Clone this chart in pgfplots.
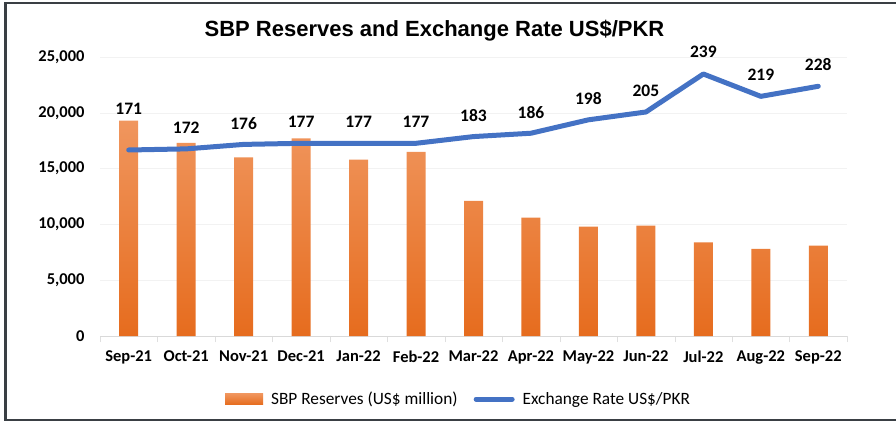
\documentclass[border=0pt]{standalone}
\usepackage{pgfplots}
\pgfplotsset{compat=1.18}
\usepackage{pgfplotstable}
\usepackage{fontspec}
\setmainfont{Carlito}
\newfontfamily\titlefont{Liberation Sans}
\definecolor{barTop}{HTML}{F0965E}
\definecolor{barBot}{HTML}{E66C1E}
\definecolor{lineBlue}{HTML}{4472C4}
\definecolor{frame}{HTML}{3A3F44}

\pgfplotstableread{
x y
0 19300
1 17300
2 16000
3 17700
4 15800
5 16500
6 12100
7 10600
8 9800
9 9900
10 8400
11 7800
12 8100
}\reserves

\pgfplotstableread{
x y off
0 171 41
1 172 21
2 176 21
3 177 21
4 177 21
5 177 21
6 183 21
7 186 21
8 198 21
9 205 21
10 239 22
11 219 22
12 228 22
}\rate

\begin{document}
\begin{tikzpicture}
\path[use as bounding box] (0pt,0pt) rectangle (896pt,423pt);
\draw[frame, line width=2.5pt] (896pt,420pt) -- (5.5pt,420pt) -- (5.5pt,3pt) -- (896pt,3pt);
\node[font=\titlefont\bfseries\fontsize{22}{26}\selectfont] at (434.5pt,392pt) {SBP Reserves and Exchange Rate US\$/PKR};

\begin{axis}[
  at={(100pt,87pt)}, anchor=south west,
  width=747pt, height=279pt, scale only axis,
  xmin=-0.5, xmax=12.5, ymin=0, ymax=25000,
  xtick={0,...,12},
  xticklabels={Sep-21,Oct-21,Nov-21,Dec-21,Jan-22,Feb-22,Mar-22,Apr-22,May-22,Jun-22,Jul-22,Aug-22,Sep-22},
  minor xtick={-0.5,0.5,...,12.5},
  ytick={0,5000,...,25000},
  scaled y ticks=false,
  major tick length=0pt, minor tick length=6pt,
  tick align=outside,
  minor tick style={gray!25},
  axis lines*=left,
  y axis line style={draw=none},
  x axis line style={gray!30, line width=0.8pt},
  ymajorgrids, grid style={gray!10},
  /pgf/number format/.cd, 1000 sep={,}, assume math mode=true,
  /pgfplots/.cd,
  ticklabel style={font=\bfseries\fontsize{16.5}{18}\selectfont},
  yticklabel style={xshift=-12pt},
  xticklabel style={yshift=-11pt},
  ybar, bar width=19pt,
]
\addplot[draw=none, shade, top color=barTop, bottom color=barBot] table[x=x,y=y] {\reserves};
\end{axis}

\begin{axis}[
  at={(100pt,87pt)}, anchor=south west,
  width=747pt, height=279pt, scale only axis,
  xmin=-0.5, xmax=12.5, ymin=4.6, ymax=254.2,
  hide axis, clip=false,
  legend style={at={(axis description cs:0.48,-0.226)}, anchor=center, draw=none,
    legend columns=2, font=\fontsize{17.3}{19}\selectfont,
    /tikz/every odd column/.append style={column sep=6pt},
    /tikz/every even column/.append style={column sep=14pt}},
]
\addlegendimage{legend image code/.code={\path[draw=none, top color=barTop, bottom color=barBot] (-2pt,-5.5pt) rectangle (36pt,5.5pt);}}
\addlegendentry{SBP Reserves (US\$ million)}
\addplot[lineBlue, line width=5pt, line cap=round, line join=round,
  nodes near coords, point meta=explicit symbolic,
  visualization depends on={\thisrow{off} \as \off},
  every node near coord/.append style={anchor=center, yshift=\off pt, black, font=\bfseries\fontsize{17.5}{19}\selectfont},
  legend image code/.code={\draw[lineBlue, line width=5pt, line cap=round] (0pt,0) -- (36pt,0);}]
  table[x=x, y=y, meta=y] {\rate};
\addlegendentry{Exchange Rate US\$/PKR}
\end{axis}
\end{tikzpicture}
\end{document}
